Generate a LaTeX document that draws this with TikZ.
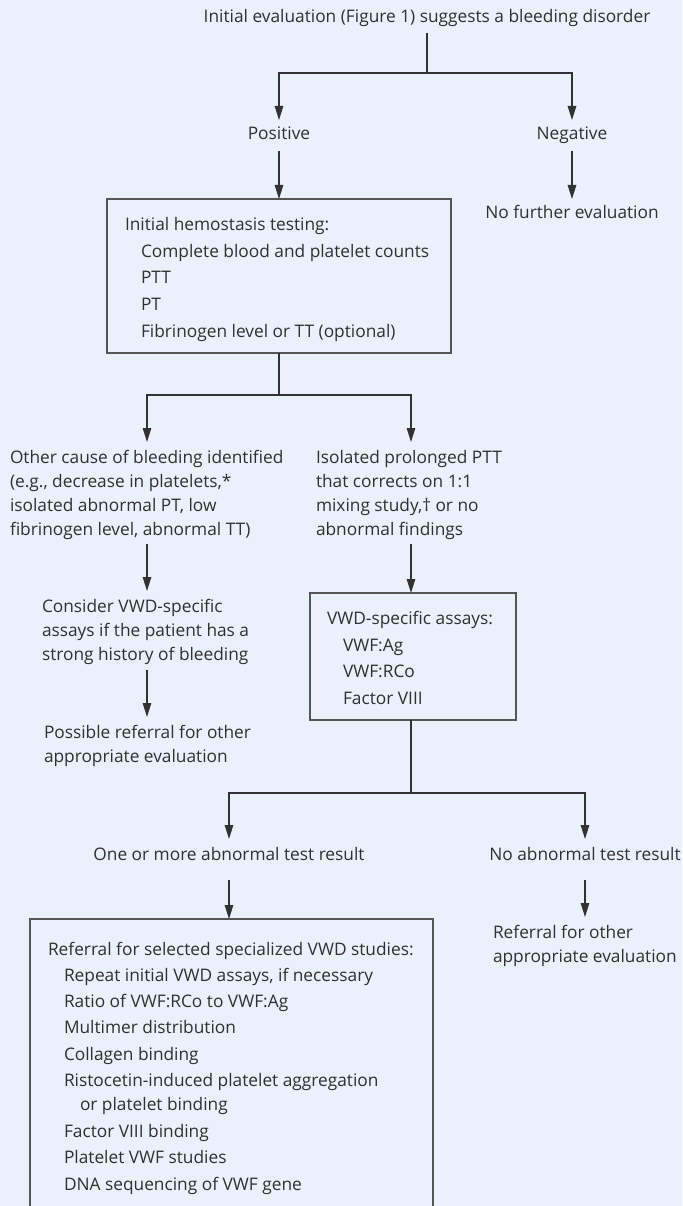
\documentclass[tikz,border=0pt]{standalone}
\usepackage{fontspec}
\setmainfont{Open Sans}
\usetikzlibrary{arrows.meta}
\definecolor{bg}{RGB}{234,241,250}
\definecolor{ink}{RGB}{48,48,48}
\definecolor{rule}{RGB}{50,50,50}
\definecolor{frame}{RGB}{85,85,85}
\tikzset{
  txt/.style={inner sep=0pt, outer sep=0pt, text=ink, font=\fontsize{17.3}{20}\selectfont, anchor=base west},
  ctxt/.style={txt, anchor=base},
  boxframe/.style={draw=frame, line width=1.4pt, inner sep=0pt, outer sep=0pt},
  link/.style={draw=rule, line width=1.2pt},
  arr/.style={link, -{Triangle[length=14pt,width=8.5pt]}}
}
\begin{document}
\begin{tikzpicture}[x=1pt,y=-1pt]
\fill[bg] (0,0) rectangle (682,1206);
\useasboundingbox (0,0) rectangle (682,1206);

% top
\node[ctxt] (top) at (427,23) {Initial evaluation (Figure 1) suggests a bleeding disorder};
\coordinate (s1) at (427,73);
\node[ctxt] (pos) at (279,140) {Positive};
\node[ctxt] (neg) at (572,140) {Negative};
\node[ctxt] (nofurther) at (572,219) {No further evaluation};

% box 1
\node[boxframe, minimum width=344pt, minimum height=154pt] (box1) at (279,276) {};
\node[txt] (b1t) at (125,230) {Initial hemostasis testing:};
\node[txt] (b1a) at (141,257) {Complete blood and platelet counts};
\node[txt] (b1b) at (141,283) {PTT};
\node[txt] (b1c) at (141,310) {PT};
\node[txt] (b1d) at (141,337) {Fibrinogen level or TT (optional)};
\coordinate (s2) at (279,395);

% second level
\node[txt] (l1) at (10,463) {Other cause of bleeding identified};
\node[txt] (l2) at (10,487) {(e.g., decrease in platelets,*};
\node[txt] (l3) at (10,511) {isolated abnormal PT, low};
\node[txt] (l4) at (10,535) {fibrinogen level, abnormal TT)};
\node[txt] (r1) at (316,463) {Isolated prolonged PTT};
\node[txt] (r2) at (316,487) {that corrects on 1:1};
\node[txt] (r3) at (316,511) {mixing study,† or no};
\node[txt] (r4) at (316,535) {abnormal findings};

\node[txt] (c1) at (42,612) {Consider VWD-specific};
\node[txt] (c2) at (42,636) {assays if the patient has a};
\node[txt] (c3) at (42,660) {strong history of bleeding};
\node[txt] (p1) at (44,738) {Possible referral for other};
\node[txt] (p2) at (44,762) {appropriate evaluation};

% box 2
\node[boxframe, minimum width=206pt, minimum height=127pt] (box2) at (413,656.5) {};
\node[txt] (b2t) at (327,624) {VWD-specific assays:};
\node[txt] (b2a) at (343,651) {VWF:Ag};
\node[txt] (b2b) at (343,677) {VWF:RCo};
\node[txt] (b2c) at (343,704) {Factor VIII};
\coordinate (s3) at (411,793);

\node[ctxt] (abn) at (229,860) {One or more abnormal test result};
\node[ctxt] (noabn) at (585,860) {No abnormal test result};
\node[txt] (q1) at (493,938) {Referral for other};
\node[txt] (q2) at (493,962) {appropriate evaluation};

% box 3 (runs off the bottom)
\node[boxframe, minimum width=403pt, minimum height=320pt] (box3) at (231.5,1079) {};
\node[txt] (b3t) at (48,955) {Referral for selected specialized VWD studies:};
\node[txt] (b3a) at (64,981) {Repeat initial VWD assays, if necessary};
\node[txt] (b3b) at (64,1007) {Ratio of VWF:RCo to VWF:Ag};
\node[txt] (b3c) at (64,1033) {Multimer distribution};
\node[txt] (b3d) at (64,1060) {Collagen binding};
\node[txt] (b3e) at (64,1086) {Ristocetin-induced platelet aggregation};
\node[txt] (b3f) at (80,1110) {or platelet binding};
\node[txt] (b3g) at (64,1137) {Factor VIII binding};
\node[txt] (b3h) at (64,1163) {Platelet VWF studies};
\node[txt] (b3i) at (64,1190) {DNA sequencing of VWF gene};

% connectors
\draw[link] ([yshift=-10pt]top.base) -- (s1);
\draw[arr] (s1) -| ([yshift=20pt]pos.base);
\draw[arr] (s1) -| ([yshift=20pt]neg.base);
\draw[arr] ([yshift=-11pt]pos.base) -- (box1.north);
\draw[arr] ([yshift=-11pt]neg.base) -- ([yshift=20pt]nofurther.base);
\draw[link] (box1.south) -- (s2);
\draw[arr] (s2) -| ([xshift=137pt,yshift=21pt]l1.base west);
\draw[arr] (s2) -| ([xshift=95pt,yshift=21pt]r1.base west);
\draw[arr] ([xshift=137pt,yshift=-9pt]l4.base west) -- ([xshift=105pt,yshift=21pt]c1.base west);
\draw[arr] ([xshift=95pt,yshift=-9pt]r4.base west) -- ([xshift=-2pt]box2.north);
\draw[arr] ([xshift=105pt,yshift=-10pt]c3.base west) -- ([xshift=103pt,yshift=21pt]p1.base west);
\draw[link] ([xshift=-2pt]box2.south) -- (s3);
\draw[arr] (s3) -| ([yshift=21pt]abn.base);
\draw[arr] (s3) -| ([yshift=21pt]noabn.base);
\draw[arr] ([yshift=-20pt]abn.base) -- ([xshift=-2.5pt]box3.north);
\draw[arr] ([yshift=-20pt]noabn.base) -- ([xshift=92pt,yshift=21pt]q1.base west);
\end{tikzpicture}
\end{document}
